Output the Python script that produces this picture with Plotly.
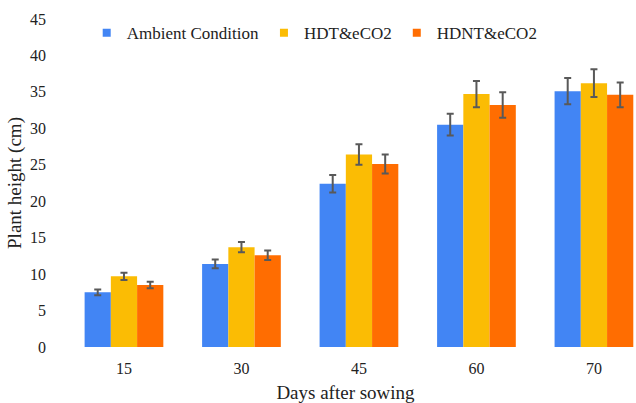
import plotly.graph_objects as go

days = ["15", "30", "45", "60", "70"]
ambient = [7.5, 11.4, 22.4, 30.5, 35.1]
ambient_err = [0.4, 0.6, 1.2, 1.5, 1.8]
hdt = [9.7, 13.7, 26.4, 34.7, 36.2]
hdt_err = [0.5, 0.7, 1.4, 1.8, 1.9]
hdnt = [8.5, 12.6, 25.1, 33.2, 34.6]
hdnt_err = [0.45, 0.65, 1.3, 1.75, 1.7]

series = [
    ("Ambient Condition", ambient, ambient_err, "#4285F4"),
    ("HDT&eCO2", hdt, hdt_err, "#FBBC04"),
    ("HDNT&eCO2", hdnt, hdnt_err, "#FF6D01"),
]

fig = go.Figure()
for name, vals, errs, col in series:
    fig.add_trace(go.Bar(
        x=days, y=vals, name=name, showlegend=False,
        marker=dict(color=col, line=dict(width=0)),
        error_y=dict(type="data", array=errs, visible=True,
                     color="#595959", thickness=2, width=3.5),
    ))
for name, vals, errs, col in series:
    fig.add_trace(go.Scatter(
        x=[None], y=[None], name=name, mode="markers",
        marker=dict(symbol="square", size=8, color=col),
    ))

font = "Liberation Serif, Times New Roman, serif"
fig.update_layout(
    width=636, height=403,
    barmode="group", bargap=0.33, bargroupgap=0,
    plot_bgcolor="white", paper_bgcolor="white",
    margin=dict(l=55, r=0, t=19, b=56),
    font=dict(family=font, size=16, color="#222222"),
    legend=dict(orientation="h", x=0.447, xanchor="center", y=0.957, yanchor="middle",
                font=dict(family=font, size=17, color="#222222"),
                itemwidth=30, bgcolor="rgba(0,0,0,0)"),
    xaxis=dict(type="category", range=[-0.587, 4.358], showgrid=False, showline=False,
               ticks="", ticklabelstandoff=10,
               tickfont=dict(family=font, size=16, color="#222222"),
               title=dict(text="Days after sowing", font=dict(family=font, size=19, color="#222222"),
                          standoff=9)),
    yaxis=dict(range=[0, 45], dtick=5, showgrid=False, showline=False, zeroline=False,
               ticks="", ticklabelstandoff=8,
               tickfont=dict(family=font, size=16, color="#222222"),
               title=dict(text="Plant height (cm)", font=dict(family=font, size=19, color="#222222"),
                          standoff=3)),
)

fig.write_html("out.html")
